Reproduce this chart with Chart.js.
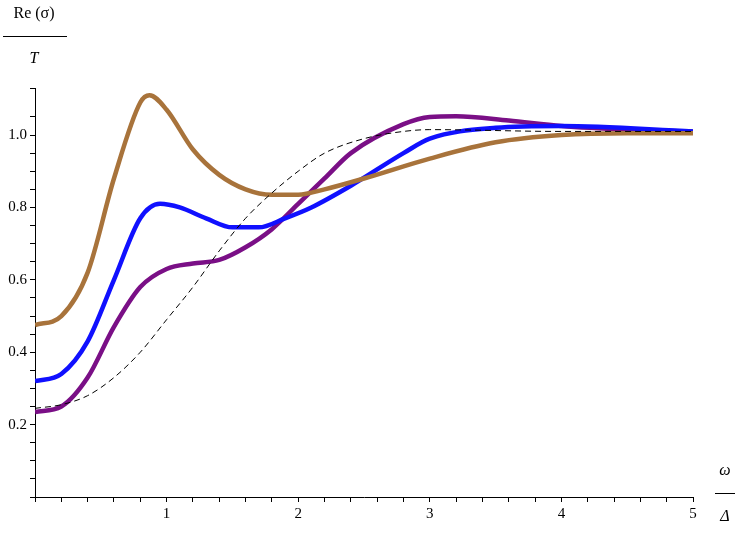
<!DOCTYPE html>
<html>
<head>
<meta charset="utf-8">
<script src="https://cdn.jsdelivr.net/npm/chart.js@4"></script>
<style>
  html, body { margin: 0; padding: 0; background: #fff; }
  #wrap { width: 747px; height: 533px; }
</style>
</head>
<body>
<div id="wrap"><canvas id="chart"></canvas></div>
<script>
// values
const brownX  = [0, 0.2, 0.4, 0.6, 0.8, 0.87, 1.0, 1.2, 1.4, 1.6, 1.8, 2.0, 2.2, 2.5, 3.0, 3.5, 4.0, 4.5, 5.0];
const brownY  = [0.475, 0.5, 0.62, 0.88, 1.09, 1.11, 1.07, 0.96, 0.89, 0.85, 0.835, 0.835, 0.85, 0.88, 0.935, 0.98, 1.0, 1.005, 1.005];
const blueX   = [0, 0.2, 0.4, 0.6, 0.8, 0.95, 1.1, 1.3, 1.5, 1.7, 1.9, 2.1, 2.4, 2.8, 3.0, 3.5, 4.0, 5.0];
const blueY   = [0.32, 0.34, 0.43, 0.6, 0.77, 0.81, 0.8, 0.77, 0.745, 0.745, 0.77, 0.8, 0.86, 0.95, 0.99, 1.02, 1.025, 1.01];
const purpleX = [0, 0.2, 0.4, 0.6, 0.8, 1.0, 1.2, 1.4, 1.6, 1.8, 2.0, 2.2, 2.4, 2.8, 3.0, 3.2, 3.6, 4.0, 4.5, 5.0];
const purpleY = [0.235, 0.25, 0.33, 0.47, 0.58, 0.63, 0.645, 0.655, 0.69, 0.74, 0.81, 0.88, 0.95, 1.03, 1.05, 1.052, 1.04, 1.025, 1.015, 1.01];
const dashX   = [0, 0.2, 0.4, 0.6, 0.8, 1.0, 1.2, 1.4, 1.6, 1.8, 2.0, 2.2, 2.5, 2.8, 3.0, 4.0, 5.0];
const dashY   = [0.245, 0.255, 0.28, 0.33, 0.4, 0.49, 0.58, 0.68, 0.77, 0.84, 0.9, 0.95, 0.99, 1.01, 1.015, 1.01, 1.01];

const xLabels = [1, 2, 3, 4, 5];
const yLabels = [0.2, 0.4, 0.6, 0.8, 1.0];

const pts = (xs, ys) => xs.map((x, i) => ({ x, y: ys[i] }));
const SERIF = '"Liberation Serif", "DejaVu Serif", serif';

function line(label, data, color, width, dash) {
  return {
    label, data, borderColor: color, borderWidth: width, borderDash: dash || [],
    pointRadius: 0, fill: false, cubicInterpolationMode: 'monotone',
  };
}

const axisLabels = {
  id: 'axisLabels',
  afterDraw(c) {
    const ctx = c.ctx;
    ctx.save();
    ctx.fillStyle = '#000';
    ctx.strokeStyle = '#000';
    ctx.lineWidth = 1;
    ctx.textAlign = 'center';
    ctx.textBaseline = 'middle';
    ctx.font = '16px ' + SERIF;
    ctx.fillText('Re (σ)', 34, 14);
    ctx.beginPath(); ctx.moveTo(3, 36.5); ctx.lineTo(67, 36.5); ctx.stroke();
    ctx.font = 'italic 16px ' + SERIF;
    ctx.fillText('T', 34, 59);
    ctx.fillText('ω', 725, 471);
    ctx.beginPath(); ctx.moveTo(715, 493.5); ctx.lineTo(735, 493.5); ctx.stroke();
    ctx.fillText('Δ', 725, 517);
    ctx.restore();
  },
};

new Chart(document.getElementById('chart'), {
  type: 'line',
  data: {
    datasets: [
      line('dashed', pts(dashX, dashY), '#000', 1, [6, 4]),
      line('brown', pts(brownX, brownY), '#a8733b', 4.5),
      line('blue', pts(blueX, blueY), '#1010ff', 4.5),
      line('purple', pts(purpleX, purpleY), '#7a0f86', 4.5),
    ],
  },
  options: {
    responsive: true,
    maintainAspectRatio: false,
    animation: false,
    layout: { padding: { top: 88, right: 54, left: 0, bottom: 0 } },
    plugins: { legend: { display: false }, tooltip: { enabled: false } },
    scales: {
      x: {
        type: 'linear', min: 0, max: 5,
        border: { color: '#000' },
        grid: { drawOnChartArea: false, tickLength: 5, color: '#000' },
        ticks: {
          stepSize: 0.2, autoSkip: false, maxRotation: 0, color: '#000',
          font: { family: SERIF, size: 15 },
          callback: v => xLabels.some(l => Math.abs(l - v) < 1e-6) ? String(Math.round(v)) : '',
        },
        afterFit: s => { s.height = 36; },
      },
      y: {
        type: 'linear', min: 0, max: 1.13,
        border: { color: '#000' },
        grid: { drawOnChartArea: false, tickLength: 5, color: '#000' },
        ticks: {
          stepSize: 0.05, autoSkip: false, color: '#000',
          font: { family: SERIF, size: 15 },
          callback: v => yLabels.some(l => Math.abs(l - v) < 1e-6) ? v.toFixed(1) : '',
        },
        afterFit: s => { s.width = 35; },
      },
    },
  },
  plugins: [axisLabels],
});
</script>
</body>
</html>
